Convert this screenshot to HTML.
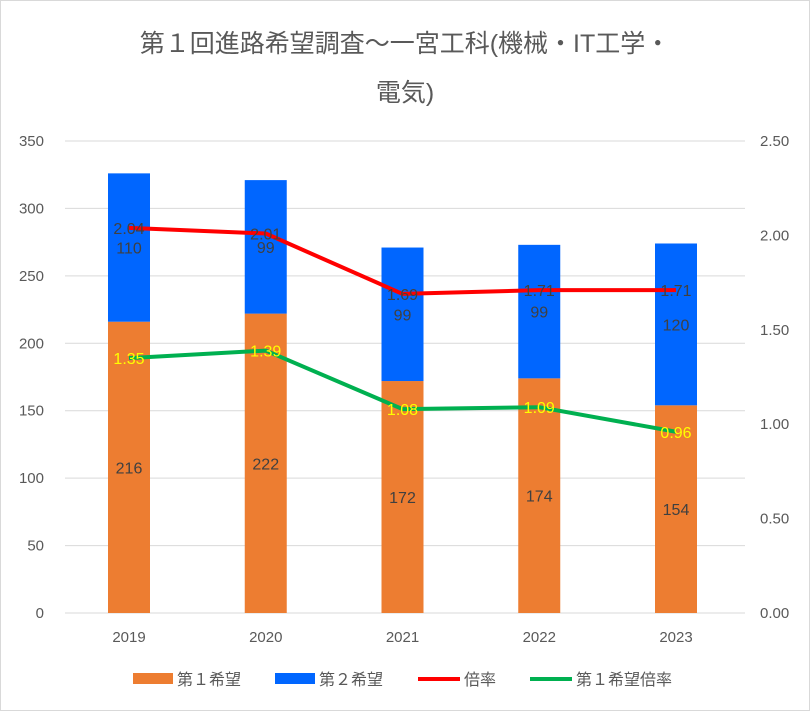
<!DOCTYPE html>
<html><head><meta charset="utf-8"><style>
body{margin:0;background:#fff;}
svg{display:block;font-family:"Liberation Sans","Noto Sans CJK JP",sans-serif;}
</style></head><body>
<svg id="chart" width="810" height="711" viewBox="0 0 810 711">
<rect x="0.5" y="0.5" width="809" height="710" fill="#fff" stroke="#d9d9d9"/>
<text x="405" y="52" text-anchor="middle" font-size="25" fill="#595959">第１回進路希望調査～一宮工科(機械・IT工学・</text>
<text x="405" y="101" text-anchor="middle" font-size="25" fill="#595959">電気)</text>
<g id="grid"></g><g id="bars"></g><g id="lines"></g><g id="labels"></g><g id="axes"></g>
<g font-size="16" fill="#595959">
<rect x="133" y="673" width="40" height="11" fill="#ed7d31"/>
<text x="177" y="685">第１希望</text>
<rect x="275" y="673" width="40" height="11" fill="#0066ff"/>
<text x="319" y="685">第２希望</text>
<line x1="418" y1="679" x2="460" y2="679" stroke="#ff0000" stroke-width="4"/>
<text x="464" y="685">倍率</text>
<line x1="530" y1="679" x2="572" y2="679" stroke="#00b050" stroke-width="4"/>
<text x="576" y="685">第１希望倍率</text>
</g>
</svg>
<script>
const categories=["2019","2020","2021","2022","2023"];
const first=[216,222,172,174,154];
const second=[110,99,99,99,120];
const ratio=[2.04,2.01,1.69,1.71,1.71];
const firstRatio=[1.35,1.39,1.08,1.09,0.96];
const leftTicks=[0,50,100,150,200,250,300,350];
const rightTicks=["0.00","0.50","1.00","1.50","2.00","2.50"];
const NS="http://www.w3.org/2000/svg";
const L=65,R=745,B=613,T=141;
const y=v=>B-v/350*(B-T);
const y2=v=>B-v/2.5*(B-T);
const band=136.75;
const x=i=>129+band*i;
function mk(tag,attrs,parent,txt){const e=document.createElementNS(NS,tag);for(const k in attrs)e.setAttribute(k,attrs[k]);if(txt!==undefined)e.textContent=txt;document.getElementById(parent).appendChild(e);return e;}
leftTicks.forEach(v=>{
 const g=mk("line",{x1:L,x2:R,y1:y(v),y2:y(v),stroke:"#d9d9d9","stroke-width":1},"grid");
 
 
 const t=mk("text",{x:44,y:y(v)+5,"text-anchor":"end","font-size":15,fill:"#595959"},"axes",String(v));
 
 
});
rightTicks.forEach(s=>{
 const t=mk("text",{x:760,y:y2(parseFloat(s))+5,"font-size":15,fill:"#595959"},"axes",s);
 
 
});
const bw=42;
categories.forEach((c,i)=>{
 const t=mk("text",{x:x(i),y:642,"text-anchor":"middle","font-size":15,fill:"#595959"},"axes",c);
 
 
 const b1=mk("rect",{x:x(i)-bw/2,y:y(first[i]),width:bw,height:B-y(first[i]),fill:"#ed7d31"},"bars");
 
 
 const b2=mk("rect",{x:x(i)-bw/2,y:y(first[i]+second[i]),width:bw,height:y(first[i])-y(first[i]+second[i]),fill:"#0066ff"},"bars");
 
 
 const l1=mk("text",{x:x(i),y:(y(first[i])+B)/2+6,"text-anchor":"middle","font-size":16,fill:"#404040"},"labels",String(first[i]));
 
 
 const l2=mk("text",{x:x(i),y:(y(first[i])+y(first[i]+second[i]))/2+6,"text-anchor":"middle","font-size":16,fill:"#404040"},"labels",String(second[i]));
 
 
 const l3=mk("text",{x:x(i),y:y2(ratio[i])+6,"text-anchor":"middle","font-size":16,fill:"#404040"},"labels",ratio[i].toFixed(2));
 
 
 const l4=mk("text",{x:x(i),y:y2(firstRatio[i])+6,"text-anchor":"middle","font-size":16,fill:"#ffff00"},"labels",firstRatio[i].toFixed(2));
 
 
});
const p1=mk("polyline",{points:ratio.map((v,i)=>x(i)+","+y2(v)).join(" "),fill:"none",stroke:"#ff0000","stroke-width":4,"stroke-linejoin":"round"},"lines");


const p2=mk("polyline",{points:firstRatio.map((v,i)=>x(i)+","+y2(v)).join(" "),fill:"none",stroke:"#00b050","stroke-width":4,"stroke-linejoin":"round"},"lines");


</script>
</body></html>
